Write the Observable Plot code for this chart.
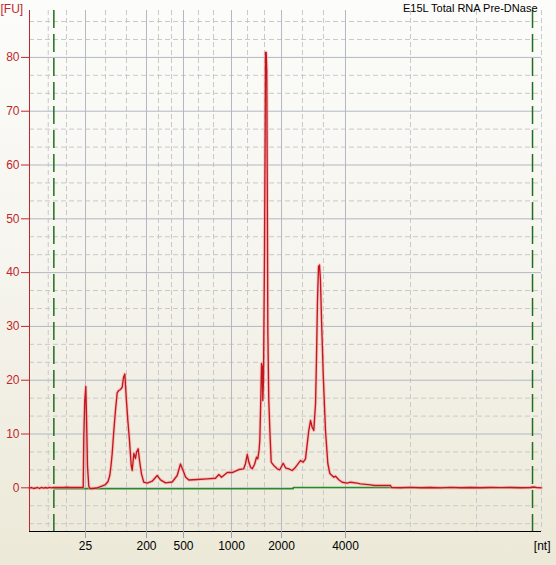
<!DOCTYPE html>
<html><head><meta charset="utf-8">
<script src="https://cdn.jsdelivr.net/npm/d3@7"></script>
<script src="https://cdn.jsdelivr.net/npm/@observablehq/plot@0.6"></script>
<style>
html,body{margin:0;padding:0;}
body{width:556px;height:565px;overflow:hidden;background:linear-gradient(to bottom,#fcfcfa 0%,#f6f5ef 45%,#ece9d8 100%);}
svg{display:block;}
</style></head><body><div id="chart"></div>
<script>
const title = "E15L Total RNA Pre-DNase";
const yUnit = "[FU]";
const xUnit = "[nt]";
// ladder sizes (nt) and their migration times (s)
const ladderSizes = ["25", "200", "500", "1000", "2000", "4000"];
const ladderTimes = [22.80, 29.11, 32.94, 37.91, 43.09, 49.71];
const minorTimes = [18.94, 20.83, 24.87, 27.04, 30.35, 31.70, 34.49, 36.05, 39.57, 41.33, 45.26, 47.43, 56.44, 63.27, 70.00];
const regionTimes = [19.52, 69.07];
const fuTicks = [0, 10, 20, 30, 40, 50, 60, 70, 80];
const fuMinor = [-6.67, -3.33, 3.33, 6.67, 13.33, 16.67, 23.33, 26.67, 33.33, 36.67, 43.33, 46.67, 53.33, 56.67, 63.33, 66.67, 73.33, 76.67, 83.33, 86.67];

const timeSec = [17.00, 17.21, 17.41, 17.62, 17.83, 18.04, 18.24, 18.45, 18.66, 18.86, 19.07, 19.28, 19.48, 19.79, 20.21, 20.52, 20.83, 21.24, 21.66, 22.07,
  22.49, 22.56, 22.62, 22.72, 22.83, 22.90, 23.00, 23.14, 23.26, 23.52, 23.94, 24.35, 24.87, 25.13, 25.31, 25.44, 25.56, 25.73, 25.90, 26.08,
  26.24, 26.42, 26.60, 26.73, 26.87, 27.01, 27.18, 27.35, 27.53, 27.63, 27.80, 27.97, 28.08, 28.25, 28.39, 28.59, 28.83, 29.18, 29.70, 30.22,
  30.56, 31.08, 31.77, 32.29, 32.63, 32.97, 33.15, 33.49, 34.36, 35.40, 36.25, 36.60, 36.88, 37.47, 37.98, 38.67, 39.18, 39.36, 39.54, 39.72,
  39.88, 40.05, 40.29, 40.50, 40.63, 40.76, 40.84, 40.94, 41.02, 41.09, 41.15, 41.22, 41.33, 41.40, 41.43, 41.50, 41.56, 41.61, 41.67, 41.77,
  41.88, 42.02, 42.29, 42.64, 42.91, 43.26, 43.50, 43.84, 44.19, 44.54, 45.05, 45.33, 45.57, 45.75, 45.91, 46.09, 46.26, 46.43, 46.61, 46.71,
  46.81, 46.92, 47.02, 47.12, 47.23, 47.33, 47.40, 47.64, 47.88, 48.09, 48.50, 48.68, 49.02, 49.37, 49.89, 50.23, 50.92, 51.26, 52.30, 52.71,
  54.37, 54.47, 55.40, 56.44, 57.47, 58.51, 59.55, 60.58, 61.62, 62.65, 63.69, 64.72, 65.76, 66.79, 67.83, 68.86, 69.17, 69.48, 70.00];
const fluorescence = [-0.04, 0.06, -0.13, -0.04, 0.06, -0.13, 0.09, -0.04, 0.06, -0.06, 0.09, 0.00, 0.06, 0.06, 0.09, 0.06, 0.11, 0.06, 0.09, 0.06,
  0.06, 0.06, 9.35, 16.23, 18.83, 13.44, 4.15, 0.24, -0.13, -0.13, -0.04, 0.24, 0.61, 1.17, 2.29, 4.15, 6.38, 10.65, 14.37, 17.71,
  18.09, 18.27, 18.70, 20.50, 21.15, 16.84, 12.51, 8.79, 4.15, 3.22, 6.38, 5.45, 6.62, 7.25, 5.07, 2.60, 1.04, 0.86, 1.23, 2.29,
  1.49, 0.93, 1.08, 2.29, 4.42, 2.90, 2.01, 1.45, 1.54, 1.67, 1.78, 2.47, 1.97, 2.84, 2.84, 3.40, 3.53, 4.52, 6.19, 4.70,
  3.83, 3.53, 4.33, 5.69, 5.39, 6.93, 8.79, 16.23, 23.10, 22.55, 16.23, 19.94, 44.11, 68.27, 80.91, 80.91, 77.57, 57.12, 29.24, 16.23,
  10.65, 4.76, 4.15, 3.53, 3.35, 4.57, 3.72, 3.53, 3.22, 3.83, 5.07, 4.76, 5.39, 8.18, 10.65, 12.51, 11.26, 10.65, 15.67, 24.22,
  34.81, 41.13, 41.41, 38.53, 31.10, 25.52, 21.25, 10.65, 4.52, 2.66, 1.97, 2.16, 1.49, 1.04, 0.86, 1.04, 0.86, 0.74, 0.56, 0.43,
  0.43, 0.06, 0.02, 0.09, 0.02, 0.06, 0.00, 0.07, 0.02, 0.06, 0.02, 0.06, 0.04, 0.06, 0.02, 0.06, 0.15, 0.06, 0.00];
const baselineTime = [19.52, 44.30, 44.30, 69.07];
const baselineFU = [-0.19, -0.19, 0.06, 0.06];

const trace = timeSec.map((t, i) => ({t, fu: fluorescence[i]}));
const baseline = baselineTime.map((t, i) => ({t, fu: baselineFU[i]}));
const sizeAt = new Map(ladderTimes.map((t, i) => [t, ladderSizes[i]]));

const RED = "#c4161c", AXISRED = "#c0282d", GRID = "#b3b8c4", MINOR = "#c9c9c9", GREEN = "#1f6f1f";
const xDom = [17, 70], yDom = [-8.12, 88.72];

const chart = Plot.plot({
  width: 556, height: 565,
  marginLeft: 29, marginRight: 15, marginTop: 10, marginBottom: 34,
  x: {domain: xDom},
  y: {domain: yDom},
  style: {background: "transparent", fontFamily: "Liberation Sans, Arial, sans-serif", fontSize: "11px", color: "black"},
  marks: [
    Plot.ruleY(fuMinor, {stroke: MINOR, strokeDasharray: "5,3"}),
    Plot.ruleX(minorTimes, {stroke: MINOR, strokeDasharray: "5,3"}),
    Plot.ruleY(fuTicks, {stroke: GRID}),
    Plot.ruleX(ladderTimes, {stroke: GRID}),
    Plot.ruleX(regionTimes, {stroke: GREEN, strokeWidth: 1.5, strokeDasharray: "18,6"}),
    Plot.line(baseline, {x: "t", y: "fu", stroke: "#2a8a2a", strokeWidth: 1.5}),
    Plot.line(trace, {x: "t", y: "fu", stroke: "#f4a9a9", strokeWidth: 3.4, strokeOpacity: 0.55}),
    Plot.line(trace, {x: "t", y: "fu", stroke: RED, strokeWidth: 1.35}),
    Plot.ruleX([xDom[0]], {stroke: AXISRED}),
    Plot.ruleY([yDom[0]], {stroke: "black"}),
    Plot.axisY(fuTicks, {label: null, tickSize: 8, tickPadding: 2, color: AXISRED, fontSize: 12}),
    Plot.axisX(ladderTimes, {label: null, tickSize: 7, tickPadding: 3, stroke: "#9da2ad", fill: "black", fontSize: 12, tickFormat: d => sizeAt.get(d)}),
    Plot.text([yUnit], {frameAnchor: "top-left", dx: -29, dy: -1.5, textAnchor: "start", lineAnchor: "middle", fill: AXISRED, fontSize: 12}),
    Plot.text([xUnit], {frameAnchor: "bottom-right", dx: 9, dy: 15, textAnchor: "end", lineAnchor: "middle", fill: "black", fontSize: 12}),
    Plot.text([title], {frameAnchor: "top-right", dx: -4, dy: -2, textAnchor: "end", lineAnchor: "middle", fill: "black", fontSize: 11})
  ]
});
document.getElementById("chart").appendChild(chart);
</script></body></html>
